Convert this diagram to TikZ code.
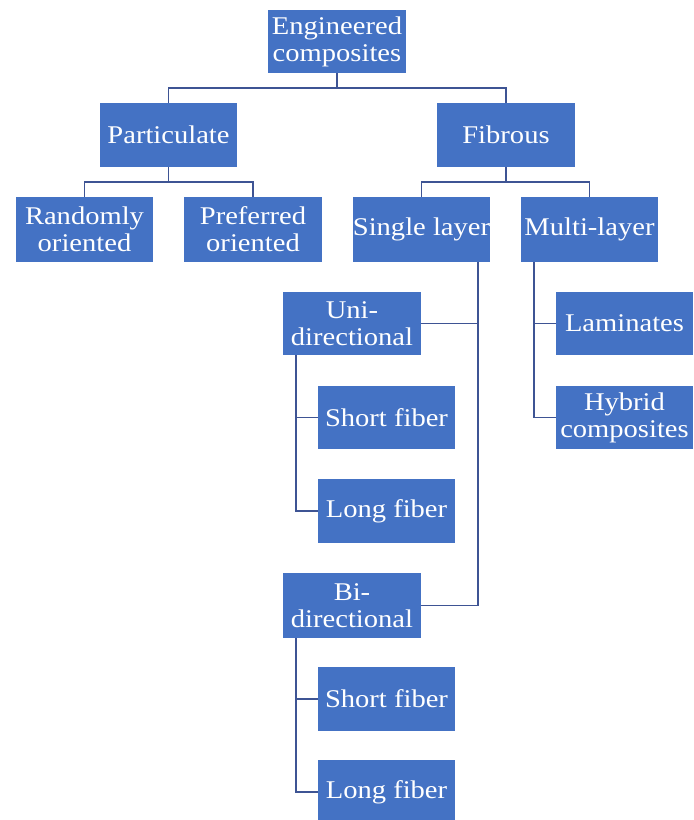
\documentclass[tikz,border=0pt]{standalone}
\usepackage{fontspec}
\setmainfont{Liberation Serif}[FakeStretch=1.12]
\definecolor{boxblue}{RGB}{68,114,196}
\definecolor{linkblue}{RGB}{62,84,148}
\begin{document}
\begin{tikzpicture}[x=1pt,y=1pt,
  cat/.style={fill=boxblue,draw=none,text=white,inner sep=0pt,align=center,
    minimum width=137pt,minimum height=64pt,
    font=\fontsize{25.5}{27}\selectfont},
  link/.style={draw=linkblue,line width=1.9pt}]
\useasboundingbox[fill=white] (0,0) rectangle (694,-820);

% boxes
\node[cat,minimum width=138pt,minimum height=63pt] (eng) at (337,-41.5) {Engineered\\composites};
\node[cat] (part) at (168.5,-135) {Particulate};
\node[cat,minimum width=138pt] (fib) at (506,-135) {Fibrous};
\node[cat,minimum height=65pt] (rand) at (84.5,-229.5) {Randomly\\oriented};
\node[cat,minimum width=138pt,minimum height=65pt] (pref) at (253,-229.5) {Preferred\\oriented};
\node[cat,minimum height=65pt] (single) at (421.5,-229.5) {Single layer};
\node[cat,minimum height=65pt] (multi) at (589.5,-229.5) {Multi-layer};
\node[cat,minimum width=138pt,minimum height=63pt] (uni) at (352,-323.5) {Uni-\\directional};
\node[cat,minimum height=63pt] (us) at (386.5,-417.5) {Short fiber};
\node[cat] (ul) at (386.5,-511) {Long fiber};
\node[cat,minimum height=63pt] (lam) at (624.5,-323.5) {Laminates};
\node[cat,minimum height=63pt] (hyb) at (624.5,-417.5) {Hybrid\\composites};
\node[cat,minimum width=138pt,minimum height=65pt] (bi) at (352,-605.5) {Bi-\\directional};
\node[cat] (bs) at (386.5,-699) {Short fiber};
\node[cat] (bl) at (386.5,-792) {Long fiber};

% trunk lines of the vertical branches
\coordinate (strunk) at ([xshift=-12pt]single.south east);
\coordinate (mtrunk) at ([xshift=13pt]multi.south west);
\coordinate (utrunk) at ([xshift=13pt]uni.south west);
\coordinate (btrunk) at ([xshift=13pt]bi.south west);

% top-down connectors
\draw[link] (eng.south) -- ++(0,-15) -| (part.north);
\draw[link] (eng.south) -- ++(0,-15) -| (fib.north);
\draw[link] (part.south) -- ++(0,-15) -| (rand.north);
\draw[link] (part.south) -- ++(0,-15) -| (pref.north);
\draw[link] (fib.south) -- ++(0,-15) -| (single.north);
\draw[link] (fib.south) -- ++(0,-15) -| (multi.north);

% single layer branch
\draw[link] (strunk) |- (bi.east);
\draw[link] (uni.east) -- (uni.east -| strunk);

% multi-layer branch
\draw[link] (mtrunk) |- (hyb.west);
\draw[link] (lam.west) -- (lam.west -| mtrunk);

% uni-directional branch
\draw[link] (utrunk) |- (ul.west);
\draw[link] (us.west) -- (us.west -| utrunk);

% bi-directional branch
\draw[link] (btrunk) |- (bl.west);
\draw[link] (bs.west) -- (bs.west -| btrunk);
\end{tikzpicture}
\end{document}
